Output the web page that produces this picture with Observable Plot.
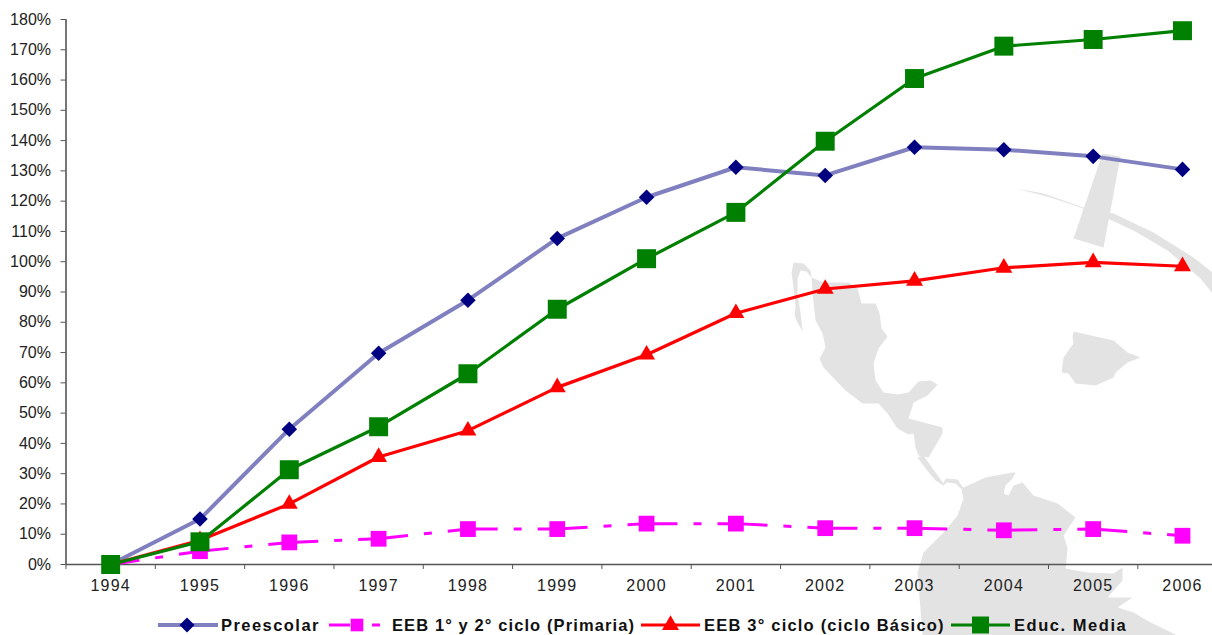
<!DOCTYPE html>
<html lang="es">
<head>
<meta charset="utf-8">
<title>Evolución de la matrícula por nivel educativo, 1994-2006</title>
<script src="https://cdn.jsdelivr.net/npm/d3@7"></script>
<script src="https://cdn.jsdelivr.net/npm/@observablehq/plot@0.6"></script>
<style>
  html, body { margin: 0; padding: 0; background: #fff; overflow: hidden; }
  #chart { position: relative; width: 1212px; height: 635px; }
  #chart svg.plot { display: block; position: absolute; left: 0; top: 0; background: transparent; }
  [aria-label="x-axis tick label"] text { letter-spacing: 1.2px; }
  .key { position: absolute; top: 616px; height: 22px; line-height: 22px; white-space: nowrap;
         font: bold 16.5px "Liberation Sans", Arial, sans-serif; color: #111; }
  .swatch { position: absolute; top: 614px; }
</style>
</head>
<body>
<div id="chart"></div>
<script>
const years = [1994, 1995, 1996, 1997, 1998, 1999, 2000, 2001, 2002, 2003, 2004, 2005, 2006];

// Cumulative growth since 1994, in percent
const preescolar = [0, 15, 44.7, 69.8, 87.3, 107.7, 121.3, 131.2, 128.5, 137.8, 137, 134.8, 130.5];
const primaria   = [0, 4.4, 7.3, 8.5, 11.7, 11.7, 13.5, 13.5, 12, 12, 11.3, 11.7, 9.5];
const basico     = [0, 8, 20, 35.5, 44.2, 58.5, 69.3, 83, 91, 93.7, 98, 99.8, 98.5];
const media      = [0, 7.5, 31.3, 45.5, 63, 84.3, 101, 116.3, 139.8, 160.5, 171.2, 173.4, 176.3];

const percentTicks = d3.range(0, 181, 10);
const halfYearTicks = d3.range(1993.5, 2006, 1);

// Map silhouettes behind the chart, outlined on the page grid
const bajaOutline = [[793,262],[803,263],[810,270],[811,277],[806,271],[800,270],[797,278],[797,293],[800,313],[802,331],[797,322],[794,315],[795,305],[793,287],[791,272]];
const mexicoOutline = [[811,277],[823,282],[848,282],[857,288],[861,303],[875,303],[879,313],[881,328],[887,336],[878,348],[873,363],[875,380],[883,392],[897,394],[908,392],[918,381],[930,380],[937,384],[927,395],[913,402],[908,418],[942,427],[942,433],[928,457],[918,455],[915,447],[913,433],[908,434],[897,428],[887,413],[878,403],[862,403],[845,390],[823,367],[819,358],[825,347],[822,333],[815,320],[812,293]];
const isthmusOutline = [[917,457],[923,455],[932,468],[943,483],[945,478],[957,479],[963,488],[960,488],[955,483],[946,482],[943,485],[935,480],[925,468]];
const southAmericaOutline = [[985,477],[1012,472],[1015,472],[1012,478],[1005,485],[1003,493],[1008,495],[1013,485],[1022,482],[1033,495],[1057,503],[1075,517],[1063,535],[1067,548],[1065,568],[1087,572],[1113,573],[1122,567],[1122,580],[1107,597],[1132,597],[1117,607],[1133,612],[1150,622],[1177,635],[922,635],[917,572],[923,552],[943,532],[957,515],[963,498],[960,485],[963,487]];
const antillaOutline = [[1073,331],[1113,340],[1127,352],[1140,357],[1127,362],[1115,372],[1113,377],[1095,385],[1075,383],[1068,373],[1061,372],[1063,357],[1073,343],[1072,337]];
const barOutline = [[1102,153],[1120,156],[1103,247],[1073,238]];
const arcOutline = [[1015,188],[1043,193],[1083,207],[1113,213],[1153,232],[1193,257],[1212,272],[1212,293],[1200,278],[1167,250],[1133,230],[1107,218],[1080,207],[1050,197]];

const gridToYear = (px) => 1994 + (px - 110) / 89.33;
const gridToPercent = (py) => (564 - py) / (545 / 180);
const silhouette = (outline) => Plot.line(outline, {
  x: (d) => gridToYear(d[0]),
  y: (d) => gridToPercent(d[1]),
  curve: "linear-closed",
  fill: "#e3e3e3",
  stroke: "none"
});

const rows = (values) => values.map((value, i) => ({year: years[i], value}));
const series = (values, lineOptions, dotOptions) => [
  Plot.line(rows(values), {x: "year", y: "value", strokeLinecap: "butt", strokeLinejoin: "round", ...lineOptions}),
  Plot.dot(rows(values), {x: "year", y: "value", ...dotOptions})
];

const axisColor = "#555";

const chart = Plot.plot({
  width: 1212,
  height: 635,
  marginTop: 19,
  marginRight: 0,
  marginBottom: 71,
  marginLeft: 65.5,
  style: {fontFamily: "'Liberation Sans', Arial, sans-serif", fontSize: "16px", color: "#222", background: "transparent"},
  x: {domain: [1993.5, 2006.336]},
  y: {domain: [0, 180]},
  marks: [
    [bajaOutline, mexicoOutline, isthmusOutline, southAmericaOutline, antillaOutline, barOutline, arcOutline].map(silhouette),
    Plot.ruleX([1993.5], {y1: 0, y2: 180, stroke: axisColor, strokeWidth: 1.6}),
    Plot.ruleY([0], {stroke: axisColor, strokeWidth: 1.6}),
    Plot.axisY({ticks: percentTicks, tickFormat: (d) => `${d}%`, tickSize: 5, tickPadding: 10, label: null, stroke: axisColor, fontSize: 16}),
    Plot.axisX({ticks: halfYearTicks, tickFormat: () => "", tickSize: 5, label: null, stroke: axisColor}),
    Plot.axisX({ticks: years, tickFormat: (d) => `${d}`, tickSize: 0, tickPadding: 15, label: null, fontSize: 16}),
    series(preescolar, {stroke: "#8080c0", strokeWidth: 4}, {symbol: "diamond2", r: 7, fill: "#000080"}),
    series(primaria, {stroke: "#ff00ff", strokeWidth: 3, strokeDasharray: "50,16,8,16", strokeDashoffset: 21}, {symbol: "square", r: 8.9, fill: "#ff00ff"}),
    series(basico, {stroke: "#ff0000", strokeWidth: 3.2}, {symbol: "triangle", r: 6.3, fill: "#ff0000"}),
    series(media, {stroke: "#008000", strokeWidth: 3.2}, {symbol: "square", r: 10.7, fill: "#008000"})
  ]
});

const host = document.getElementById("chart");
host.append(chart);

// Legend row under the axis: a line sample with its marker, then the series name
const legendNames = ["Preescolar", "EEB 1° y 2° ciclo (Primaria)", "EEB 3° ciclo (ciclo Básico)", "Educ. Media"];
const legendStyles = [
  {left: 158, width: 60, textLeft: 221, spacing: 1.45, color: "#8080c0", lineWidth: 4, marker: d3.symbolDiamond2, size: 143, markerFill: "#000080", markerAt: 29},
  {left: 329, width: 52, textLeft: 392, spacing: 1.1, color: "#ff00ff", lineWidth: 3, dash: "21,22,8,99", marker: d3.symbolSquare, size: 160, markerFill: "#ff00ff", markerAt: 28},
  {left: 641, width: 59, textLeft: 704, spacing: 1.2, color: "#ff0000", lineWidth: 3.2, marker: d3.symbolTriangle, size: 125, markerFill: "#ff0000", markerAt: 29.5},
  {left: 951, width: 59, textLeft: 1014, spacing: 1.55, color: "#008000", lineWidth: 3.2, marker: d3.symbolSquare, size: 289, markerFill: "#008000", markerAt: 29.5}
];
legendNames.forEach((name, i) => {
  const s = legendStyles[i];
  const swatch = d3.create("svg").attr("class", "swatch").attr("width", s.width).attr("height", 22)
    .style("left", `${s.left}px`);
  swatch.append("line").attr("x1", 0).attr("x2", s.width).attr("y1", 11).attr("y2", 11)
    .attr("stroke", s.color).attr("stroke-width", s.lineWidth).attr("stroke-dasharray", s.dash ?? null);
  swatch.append("path").attr("d", d3.symbol(s.marker, s.size)())
    .attr("transform", `translate(${s.markerAt},11)`).attr("fill", s.markerFill);
  host.append(swatch.node());
  const key = document.createElement("div");
  key.className = "key";
  key.textContent = name;
  key.style.left = `${s.textLeft}px`;
  key.style.letterSpacing = `${s.spacing}px`;
  host.append(key);
});
</script>
</body>
</html>
